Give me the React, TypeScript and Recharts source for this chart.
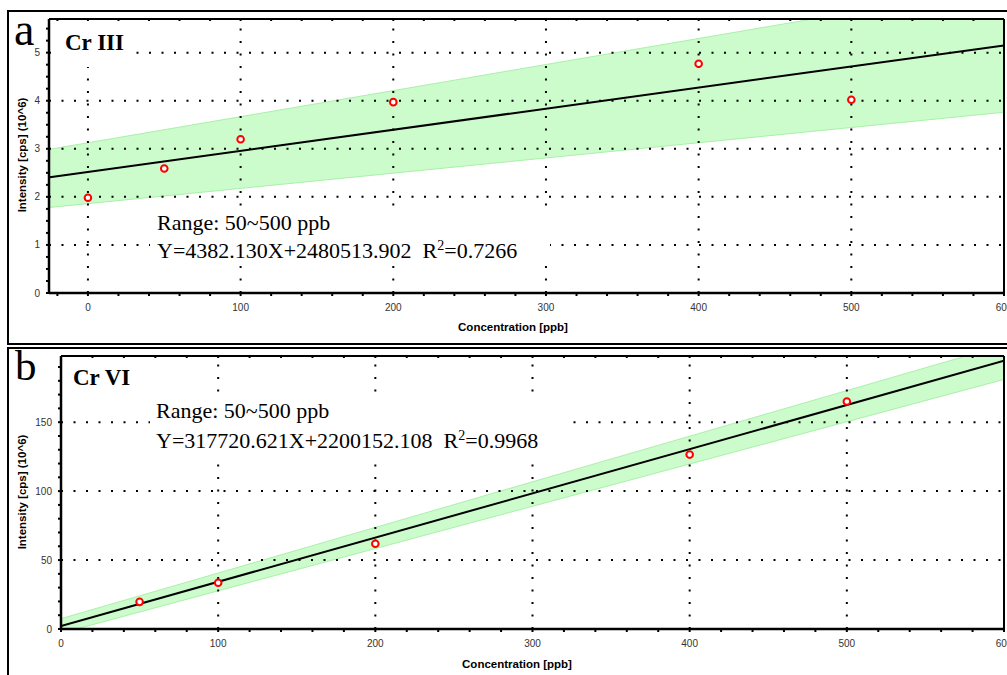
import { ComposedChart, Area, Line, Scatter, XAxis, YAxis, ReferenceLine } from "recharts";

// panel a - Cr III
const aConc = [0, 50, 100, 200, 400, 500];
const aIntensity = [1.98, 2.59, 3.2, 3.97, 4.77, 4.02];
const aFitX = [-25, 600];
const aFitY = [2.41, 5.15];
const aBandLow = [1.78, 3.76];
const aBandHigh = [2.99, 6.38];
const aXMajor = [0, 100, 200, 300, 400, 500, 600];
const aYMajor = [0, 1, 2, 3, 4, 5];
const aXGrid = [0, 100, 200, 300, 400, 500];
const aYGrid = [1, 2, 3, 4, 5];

// panel b - Cr VI
const bConc = [50, 100, 200, 400, 500];
const bIntensity = [19.7, 33.5, 61.8, 126.5, 165];
const bFitX = [0, 600];
const bFitY = [2.2, 194.5];
const bBandLow = [-3, 181];
const bBandHigh = [7.5, 206];
const bXMajor = [0, 100, 200, 300, 400, 500, 600];
const bYMajor = [0, 50, 100, 150];
const bXGrid = [100, 200, 300, 400, 500];
const bYGrid = [50, 100, 150];

const range = (from: number, to: number, step: number) => {
	const out: number[] = [];
	for (let v = from; v <= to + 1e-9; v += step) out.push(Math.round(v * 1000) / 1000);
	return out;
};

const SANS = "'Liberation Sans', Arial, sans-serif";
const SERIF = "'Liberation Serif', 'Times New Roman', serif";
const DOT = "2 10.5";

const xTick = (majors: number[]) => (p: any) =>
	majors.includes(p.payload.value) ? (
		<text x={p.x} y={p.y} dy="0.71em" textAnchor="middle" fontSize={10} fill="#333" fontFamily={SANS}>
			{p.payload.value}
		</text>
	) : (
		<g />
	);

const yTick = (majors: number[]) => (p: any) =>
	majors.includes(p.payload.value) ? (
		<text x={p.x} y={p.y} dy="0.355em" textAnchor="end" fontSize={10} fill="#333" fontFamily={SANS}>
			{p.payload.value}
		</text>
	) : (
		<g />
	);

const ring = (p: any) => <circle cx={p.cx} cy={p.cy} r={3.3} fill="#fff" stroke="#ff0000" strokeWidth={2} />;

const emptyTick = () => <g />;

function Panel(props: {
	width: number;
	height: number;
	margin: { top: number; right: number; bottom: number; left: number };
	xDomain: [number, number];
	yDomain: [number, number];
	fitX: number[];
	fitY: number[];
	low: number[];
	high: number[];
	conc: number[];
	intensity: number[];
	xMinor: number[];
	yMinor: number[];
	xMajor: number[];
	yMajor: number[];
	xGrid: number[];
	yGrid: number[];
}) {
	const rows = props.fitX.map((x, i) => ({ x, fit: props.fitY[i], band: [props.low[i], props.high[i]] }));
	const points = props.conc.map((x, i) => ({ x, y: props.intensity[i] }));
	return (
		<ComposedChart width={props.width} height={props.height} data={rows} margin={props.margin}>
			<XAxis
				dataKey="x"
				type="number"
				domain={props.xDomain}
				allowDataOverflow
				ticks={props.xMinor}
				interval={0}
				height={30}
				axisLine={{ stroke: "#000", strokeWidth: 2.5 }}
				tickLine={{ stroke: "#000", strokeWidth: 2 }}
				tickSize={3}
				tickMargin={8}
				tick={xTick(props.xMajor)}
			/>
			<XAxis
				xAxisId="top"
				orientation="top"
				dataKey="x"
				type="number"
				domain={props.xDomain}
				allowDataOverflow
				ticks={props.xMinor}
				interval={0}
				height={1}
				mirror
				axisLine={{ stroke: "#000", strokeWidth: 2 }}
				tickLine={{ stroke: "#000", strokeWidth: 2 }}
				tickSize={2}
				tick={emptyTick}
			/>
			<YAxis
				type="number"
				domain={props.yDomain}
				allowDataOverflow
				ticks={props.yMinor}
				interval={0}
				width={30}
				axisLine={{ stroke: "#000", strokeWidth: 2.5 }}
				tickLine={{ stroke: "#000", strokeWidth: 2 }}
				tickSize={3}
				tickMargin={6}
				tick={yTick(props.yMajor)}
			/>
			<YAxis
				yAxisId="right"
				orientation="right"
				type="number"
				domain={props.yDomain}
				allowDataOverflow
				width={1}
				axisLine={{ stroke: "#000", strokeWidth: 2 }}
				tickLine={false}
				tick={emptyTick}
			/>
			<Area
				dataKey="band"
				type="linear"
				fill="#ccfbcc"
				fillOpacity={1}
				stroke="#aaf0aa"
				strokeWidth={1}
				isAnimationActive={false}
			/>
			{props.yGrid.map((v) => (
				<ReferenceLine key={"h" + v} y={v} stroke="#000" strokeWidth={2} strokeDasharray={DOT} />
			))}
			{props.xGrid.map((v) => (
				<ReferenceLine key={"v" + v} x={v} stroke="#000" strokeWidth={2} strokeDasharray={DOT} />
			))}
			<Line dataKey="fit" type="linear" stroke="#000" strokeWidth={2} dot={false} isAnimationActive={false} />
			<Scatter data={points} dataKey="y" shape={ring} isAnimationActive={false} />
		</ComposedChart>
	);
}

export default function App() {
	return (
		<div style={{ position: "absolute", left: 0, top: 0, width: 1007, height: 675, overflow: "hidden", background: "#fff" }}>
			<div style={{ position: "absolute", left: 7, top: 10, width: 1020, height: 335, border: "2px solid #000", boxSizing: "border-box" }} />
			<div style={{ position: "absolute", left: 7, top: 347, width: 1020, height: 400, border: "2px solid #000", boxSizing: "border-box" }} />
			<div style={{ position: "absolute", left: 0, top: 0 }}>
				<Panel
					width={1007}
					height={343}
					margin={{ top: 19, right: 2, bottom: 20, left: 19 }}
					xDomain={[-25.5, 600]}
					yDomain={[0, 5.7]}
					fitX={aFitX}
					fitY={aFitY}
					low={aBandLow}
					high={aBandHigh}
					conc={aConc}
					intensity={aIntensity}
					xMinor={range(-20, 600, 20)}
					yMinor={range(0, 5.5, 0.25)}
					xMajor={aXMajor}
					yMajor={aYMajor}
					xGrid={aXGrid}
					yGrid={aYGrid}
				/>
			</div>
			<div style={{ position: "absolute", left: 0, top: 345 }}>
				<Panel
					width={1007}
					height={330}
					margin={{ top: 11, right: 2, bottom: 16, left: 31 }}
					xDomain={[0, 600]}
					yDomain={[0, 198]}
					fitX={bFitX}
					fitY={bFitY}
					low={bBandLow}
					high={bBandHigh}
					conc={bConc}
					intensity={bIntensity}
					xMinor={range(0, 600, 20)}
					yMinor={range(0, 190, 10)}
					xMajor={bXMajor}
					yMajor={bYMajor}
					xGrid={bXGrid}
					yGrid={bYGrid}
				/>
			</div>
			<svg width={1007} height={675} style={{ position: "absolute", left: 0, top: 0, pointerEvents: "none" }}>
				<rect x={52} y={23} width={84} height={44} fill="#fff" />
				<rect x={150} y={209} width={400} height={57} fill="#fff" />
				<rect x={150} y={398} width={420} height={57} fill="#fff" />
				<g fontFamily={SERIF} fill="#000">
					<text x={14} y={45} fontSize={46}>a</text>
					<text x={15} y={380} fontSize={43}>b</text>
					<text x={65} y={50} fontSize={23} fontWeight="bold">Cr III</text>
					<text x={73} y={385} fontSize={23} fontWeight="bold">Cr VI</text>
					<text x={157} y={230} fontSize={22}>Range: 50~500 ppb</text>
					<text x={157} y={258} fontSize={22}>
						Y=4382.130X+2480513.902{"\u00a0\u00a0"}R<tspan dy={-8} fontSize={14}>2</tspan>
						<tspan dy={8}>=0.7266</tspan>
					</text>
					<text x={156} y={418} fontSize={22}>Range: 50~500 ppb</text>
					<text x={156} y={448} fontSize={22}>
						Y=317720.621X+2200152.108{"\u00a0\u00a0"}R<tspan dy={-8} fontSize={14}>2</tspan>
						<tspan dy={8}>=0.9968</tspan>
					</text>
				</g>
				<g fontFamily={SANS} fontWeight="bold" fontSize={11.5} fill="#000" textAnchor="middle">
					<text x={513} y={331}>Concentration [ppb]</text>
					<text x={517} y={668}>Concentration [ppb]</text>
					<text transform="translate(26 155) rotate(-90)">Intensity [cps] (10^6)</text>
					<text transform="translate(26 492) rotate(-90)">Intensity [cps] (10^6)</text>
				</g>
			</svg>
		</div>
	);
}
